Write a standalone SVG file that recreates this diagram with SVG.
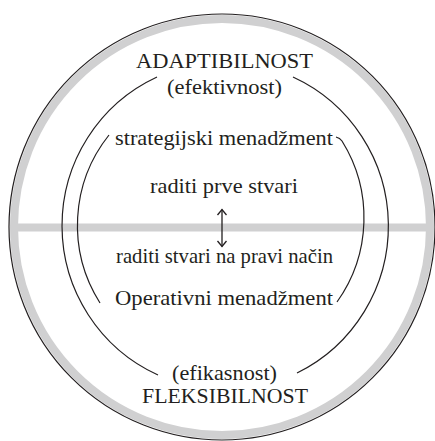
<svg xmlns="http://www.w3.org/2000/svg" width="435" height="441" viewBox="0 0 435 441">
<style>
.arc{fill:none;stroke:#231f20;stroke-width:1.2}
.gray{fill:none;stroke:#d0d0d1;stroke-width:8}
text{font-family:'Liberation Serif','DejaVu Serif',serif;font-size:22px;fill:#231f20;text-anchor:middle}
</style>
<rect width="435" height="441" fill="#ffffff"/>
<g id="frame">
<line class="gray" x1="16" y1="227.5" x2="428" y2="227.5"/>
<circle class="gray" cx="222" cy="227" r="208"/>
<circle cx="222" cy="227" r="213" fill="none" stroke="#231f20" stroke-width="1.2"/>
</g>
<g id="connectors">
<path class="arc" d="M157,77 A164,164 0 0 0 158,375"/>
<path class="arc" d="M293,77 A164,164 0 0 1 297,373"/>
<path class="arc" d="M109,135 A145,145 0 0 0 100,303"/>
<path class="arc" d="M336,137 Q340,138 342,141 A145,145 0 0 1 337,302"/>
<g stroke="#231f20" stroke-width="1.3" fill="none">
<line x1="222" y1="209.5" x2="222" y2="246.5"/>
<polyline points="217.5,215 222,209.5 226.5,215"/>
<polyline points="217.5,241 222,246.5 226.5,241"/>
</g>
</g>
<g id="adaptibilnost"><text x="224.5" y="68" textLength="177" lengthAdjust="spacingAndGlyphs">ADAPTIBILNOST</text><text x="224.5" y="94" textLength="115" lengthAdjust="spacingAndGlyphs">(efektivnost)</text></g>
<g id="strategijski"><text x="224" y="145" textLength="218" lengthAdjust="spacingAndGlyphs">strategijski menadžment</text></g>
<g id="prve"><text x="224" y="193" textLength="148" lengthAdjust="spacingAndGlyphs">raditi prve stvari</text></g>
<g id="nacin"><text x="224.5" y="263" textLength="217" lengthAdjust="spacingAndGlyphs">raditi stvari na pravi način</text></g>
<g id="operativni"><text x="224" y="305" textLength="218" lengthAdjust="spacingAndGlyphs">Operativni menadžment</text></g>
<g id="fleksibilnost"><text x="224.5" y="380" textLength="105" lengthAdjust="spacingAndGlyphs">(efikasnost)</text><text x="225" y="403" textLength="166" lengthAdjust="spacingAndGlyphs">FLEKSIBILNOST</text></g>
</svg>
